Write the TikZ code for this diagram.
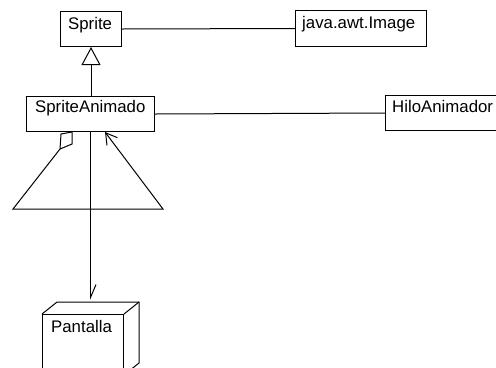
\documentclass[tikz,border=0pt]{standalone}
\usepackage{fontspec}
\setmainfont{Liberation Sans}
\usetikzlibrary{arrows.meta,calc}

\begin{document}
\begin{tikzpicture}[x=1bp,y=-1bp,
  umlbox/.style={draw, line width=1bp, inner sep=0pt, anchor=north west},
  lbl/.style={inner sep=0pt, anchor=base west,
    font=\fontsize{16.8bp}{20bp}\selectfont},
  conn/.style={line width=1bp}
]
% canvas
\fill[white] (0,0) rectangle (496,367);
\useasboundingbox (0,0) rectangle (496,367);

% class boxes
\node[umlbox, minimum width=61bp,  minimum height=35bp] (sprite) at (60,11) {};
\node[umlbox, minimum width=131bp, minimum height=36bp] (image)  at (295,10) {};
\node[umlbox, minimum width=128bp, minimum height=35bp] (sanim)  at (26,96) {};
\node[umlbox, minimum width=135bp, minimum height=35bp] (hilo)   at (385,95) {};

\node[lbl] (spriteTxt) at (68,29)  {Sprite};
\node[lbl] (imageTxt)  at (302,28) {java.awt.Image};
\node[lbl] (sanimTxt)  at (35,112) {SpriteAnimado};
\node[lbl] (hiloTxt)   at (392,112) {HiloAnimador};

% Pantalla: 3D node (front face plus top and side)
\node[umlbox, minimum width=81bp, minimum height=60bp] (pantalla) at (42,314) {};
\coordinate (pBackTL) at ($(pantalla.north west)+(15,-12)$);
\coordinate (pBackTR) at ($(pantalla.north east)+(15,-12)$);
\coordinate (pBackBR) at ($(pantalla.south east)+(15,-12)$);
\draw[conn] (pantalla.north west) -- (pBackTL) -- (pBackTR) -- (pBackBR) -- (pantalla.south east);
\draw[conn] (pantalla.north east) -- (pBackTR);
\node[lbl] (pantallaTxt) at (51,332) {Pantalla};

% associations
\draw[conn] (sprite.east) -- (image.west);
\draw[conn] (sanim.east) -- (hilo.west);

% generalization
\draw[conn, -{Triangle[open, length=18bp, width=19bp]}]
  (sanim.north -| sprite.south) -- (sprite.south);

% self association of SpriteAnimado
\coordinate (aggA)   at ($(sanim.south west)+(35,2)$);
\coordinate (aggB)   at ($(sanim.south west)+(46,0)$);
\coordinate (aggC)   at ($(sanim.south west)+(46,12)$);
\coordinate (aggD)   at ($(sanim.south west)+(34,17)$);
\coordinate (loopL)  at ($(sanim.south west)+(-13,77)$);
\coordinate (loopR)  at ($(sanim.south west)+(137,77)$);
\coordinate (selfEnd) at ($(sanim.south west)+(79,0)$);
\draw[conn] (aggA) -- (aggB) -- (aggC) -- (aggD) -- cycle;
\draw[conn, -{Straight Barb[length=11bp, width=13bp]}]
  (aggD) -- (loopL) -- (loopR) -- (selfEnd);

% navigation to Pantalla
\coordinate (pTop) at ($(pantalla.north)+(0,-14)$);
\draw[conn, -{Straight Barb[left, length=13bp, width=11bp]}]
  (sanim.south) -- (sanim.south |- pTop);
\end{tikzpicture}
\end{document}
